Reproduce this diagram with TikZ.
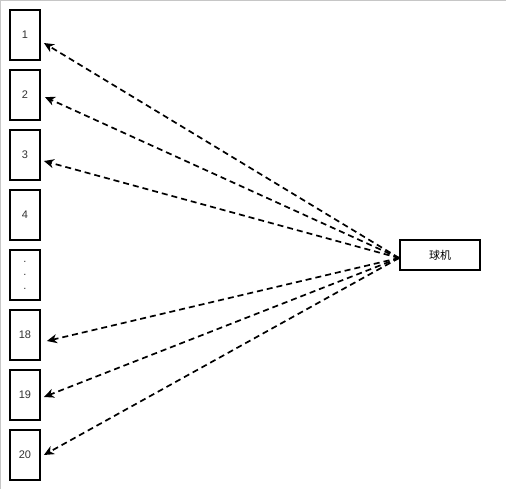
\documentclass[tikz,border=0pt]{standalone}
\usepackage{fontspec}
\setmainfont{Liberation Sans}
\newfontfamily\cjk{Noto Sans CJK SC}
\usetikzlibrary{arrows.meta}
\begin{document}
\begin{tikzpicture}[x=1pt,y=-1pt,
  slot/.style={draw,line width=1.8pt,minimum width=30pt,minimum height=50pt,inner sep=0pt,text=black!80,font=\fontsize{11}{13.5}\selectfont},
  cam/.style={draw,line width=1.8pt,minimum width=80pt,minimum height=30pt,inner sep=0pt,font=\cjk\fontsize{11}{13}\selectfont},
  link/.style={line width=1.7pt,dash pattern=on 6pt off 4pt,-{Stealth[length=10pt,width=9pt,inset=3pt]}}]
\useasboundingbox (0,0) rectangle (506,489);
\fill[white] (0,0) rectangle (506,489);
\draw[gray!45,line width=1pt] (0.5,489) -- (0.5,0.5) -- (506,0.5);
\node[slot] (b1) at (25,35) {1};
\node[slot] (b2) at (25,95) {2};
\node[slot] (b3) at (25,155) {3};
\node[slot] (b4) at (25,215) {4};
\node[slot,align=center] (bd) at (25,275) {.\\.\\.};
\node[slot] (b18) at (25,335) {18};
\node[slot] (b19) at (25,395) {19};
\node[slot] (b20) at (25,455) {20};
\node[cam] (ball) at (440,255) {球机};
\coordinate (s) at ([yshift=-3pt]ball.west);
\coordinate (t1) at ([xshift=3pt,yshift=-8pt]b1.east);
\coordinate (t2) at ([xshift=4pt,yshift=-2pt]b2.east);
\coordinate (t3) at ([xshift=3pt,yshift=-6pt]b3.east);
\coordinate (t18) at ([xshift=6pt,yshift=-6pt]b18.east);
\coordinate (t19) at ([xshift=3pt,yshift=-2pt]b19.east);
\coordinate (t20) at ([xshift=3pt,yshift=0pt]b20.east);
\foreach \t in {t1,t2,t3,t18,t19,t20}{
  \draw[link] (s) -- (\t);
}
\end{tikzpicture}
\end{document}
